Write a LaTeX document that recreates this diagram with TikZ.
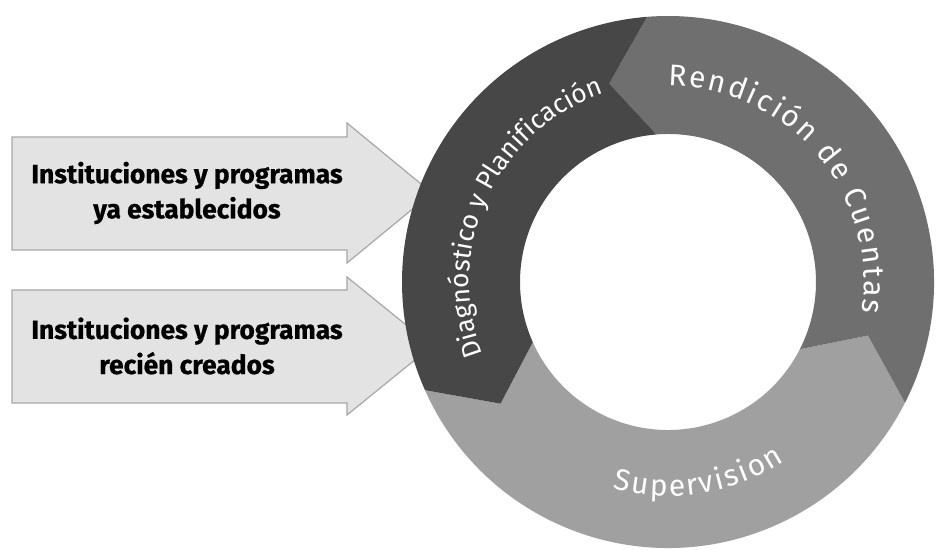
\documentclass[tikz,border=0pt]{standalone}
\usepackage{fontspec}
\setmainfont{Fira Sans}
\newfontfamily\rotulofont{Fira Sans}[BoldFeatures={FakeBold=0.8}]
\usetikzlibrary{decorations.text}

\definecolor{diag}{HTML}{474747}
\definecolor{rend}{HTML}{6F6F6F}
\definecolor{superv}{HTML}{A0A0A0}
\definecolor{flechafondo}{HTML}{E3E3E3}
\definecolor{flechaborde}{HTML}{A8A8A8}

% one piece of the ring: colour, tail angle, head angle
\newcommand{\segmento}[3]{%
  \fill[#1] (#2:266) arc[start angle=#2, end angle=#3, radius=266]
    -- ({#3+12}:207) -- (#3:148) arc[start angle=#3, end angle=#2, radius=148]
    -- ({#2+12}:207) -- cycle;}

\tikzset{
  flecha/.style={fill=flechafondo, draw=flechaborde, line width=0.7pt},
  rotulo/.style={font=\rotulofont\bfseries\fontsize{15}{20}\selectfont, align=center, text=black},
  anillo/.style={decorate, decoration={text along path, text color=white,
      text align={fit to path}, text={|\fontsize{17}{19}\selectfont|#1}}},
  anillocentro/.style={decorate, decoration={text along path, text color=white,
      text align=center, text={|\fontsize{15}{18}\selectfont|#1}}},
}

\begin{document}
\begin{tikzpicture}[x=0.02cm, y=0.02cm]
    \useasboundingbox (0,0) rectangle (937,550);

    % Input arrows
    \draw[flecha] (12,413) -- (347,413) -- (347,427) -- (432,357) -- (347,287)
        -- (347,300) -- (12,300) -- cycle;
    \draw[flecha] (12,260) -- (347,260) -- (347,273) -- (432,204) -- (347,135)
        -- (347,147) -- (12,147) -- cycle;
    \node[rotulo] (establecidos) at (187,357) {Instituciones y programas\\ya establecidos};
    \node[rotulo] (creados) at (187,204) {Instituciones y programas\\recién creados};

    % Cycle
    \begin{scope}[shift={(668,268)}]
        \segmento{superv}{204}{333}
        \segmento{rend}{-27}{94.5}
        \segmento{diag}{94.5}{204}

        % Labels along the ring
        \path[anillocentro={Diagnóstico y Planificación}]
            (208:199) arc[start angle=208, end angle=102, radius=199];
        \path[anillo={Rendición de Cuentas}]
            (90:196) arc[start angle=90, end angle=-9, radius=196];
        \path[anillo={Supervision}]
            (255:214) arc[start angle=255, end angle=303, radius=214];
    \end{scope}
\end{tikzpicture}
\end{document}
